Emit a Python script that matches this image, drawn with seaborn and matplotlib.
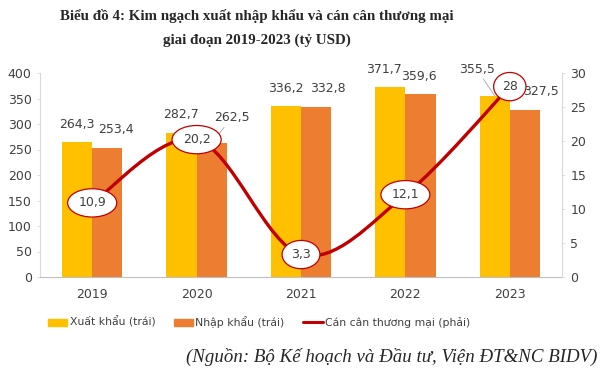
import pandas as pd
import matplotlib.pyplot as plt
import seaborn as sns
from matplotlib.path import Path
from matplotlib.patches import PathPatch
from matplotlib.lines import Line2D
from matplotlib.patches import Patch

#------------------------------------------------------------------------------
years = ['2019', '2020', '2021', '2022', '2023']
xuat_khau = [264.3, 282.7, 336.2, 371.7, 355.5]
nhap_khau = [253.4, 262.5, 332.8, 359.6, 327.5]
can_can = [10.9, 20.2, 3.3, 12.1, 28.0]
xk_labels = ['264,3', '282,7', '336,2', '371,7', '355,5']
nk_labels = ['253,4', '262,5', '332,8', '359,6', '327,5']
cc_labels = ['10,9', '20,2', '3,3', '12,1', '28']
#------------------------------------------------------------------------------
c_xk = '#FFC000'
c_nk = '#ED7D31'
c_cc = '#C00000'
txt = '#404040'
fs = 9

sns.set_style('white')
plt.rcParams['font.family'] = ['DejaVu Sans']

df = pd.DataFrame({'year': years * 2,
                   'value': xuat_khau + nhap_khau,
                   'kind': ['Xuất khẩu (trái)'] * 5 + ['Nhập khẩu (trái)'] * 5})

fig = plt.figure(figsize=(6.05, 3.72), dpi=100)
ax = fig.add_axes([40 / 605, 1 - 277 / 372, 522 / 605, 204 / 372])
sns.barplot(data=df, x='year', y='value', hue='kind', ax=ax,
            palette=[c_xk, c_nk], width=0.58, saturation=1, legend=False,
            linewidth=0)
ax.set_xlim(-0.5, 4.5)
ax.set_ylim(0, 400)
ax.set_yticks(range(0, 401, 50))
ax.set_xlabel('')
ax.set_ylabel('')
ax.tick_params(axis='both', labelsize=fs, colors=txt, length=2.5, width=0.6)
ax.tick_params(axis='x', length=0, pad=8)
for s in ['top', 'right']:
    ax.spines[s].set_visible(False)
ax.spines['left'].set_color('#d9d9d9')
ax.spines['bottom'].set_color('#bfbfbf')
ax.tick_params(axis='y', color='#d9d9d9')

# bar labels (offset in pixels from bar top)
bw = 0.29
xk_off = [(0, 11), (0, 12), (0, 11), (-6, 11), (-18, 20)]
nk_off = [(9, 12), (20, 19), (12, 12), (-2, 11), (16, 12)]
for i in range(5):
    ax.annotate(xk_labels[i], (i - bw / 2, xuat_khau[i]), xytext=xk_off[i],
                textcoords='offset pixels', ha='center', va='bottom',
                fontsize=fs, color=txt,
                arrowprops=dict(arrowstyle='-', color='#a6a6a6', lw=0.6,
                                shrinkA=0, shrinkB=0) if i == 4 else None)
    ax.annotate(nk_labels[i], (i + bw / 2, nhap_khau[i]), xytext=nk_off[i],
                textcoords='offset pixels', ha='center', va='bottom',
                fontsize=fs, color=txt,
                arrowprops=dict(arrowstyle='-', color='#a6a6a6', lw=0.6,
                                shrinkA=0, shrinkB=0) if i == 1 else None)

# right axis: smoothed line
ax2 = ax.twinx()
ax2.set_ylim(0, 30)
ax2.set_yticks(range(0, 31, 5))
ax2.tick_params(axis='y', labelsize=fs, colors=txt, color='#d9d9d9',
                length=2.5, width=0.6)
for s in ['top', 'left', 'bottom']:
    ax2.spines[s].set_visible(False)
ax2.spines['right'].set_color('#d9d9d9')

pts = list(zip(range(5), can_can))
verts = [pts[0]]
codes = [Path.MOVETO]
for i in range(4):
    p0 = pts[max(i - 1, 0)]
    p1 = pts[i]
    p2 = pts[i + 1]
    p3 = pts[min(i + 2, 4)]
    c1 = (p1[0] + (p2[0] - p0[0]) / 6, p1[1] + (p2[1] - p0[1]) / 6)
    c2 = (p2[0] - (p3[0] - p1[0]) / 6, p2[1] - (p3[1] - p1[1]) / 6)
    verts += [c1, c2, p2]
    codes += [Path.CURVE4] * 3
ax2.add_patch(PathPatch(Path(verts, codes), facecolor='none',
                        edgecolor=c_cc, lw=2.4, capstyle='round'))

for i in range(5):
    ax2.text(i, can_can[i], cc_labels[i], ha='center', va='center',
             fontsize=fs, color=txt, zorder=5,
             bbox=dict(boxstyle='ellipse,pad=0.28', fc='white',
                       ec=c_cc, lw=0.9))

# legend
handles = [Patch(color=c_xk), Patch(color=c_nk),
           Line2D([0], [0], color=c_cc, lw=2.2)]
fig.legend(handles, ['Xuất khẩu (trái)', 'Nhập khẩu (trái)',
                     'Cán cân thương mại (phải)'],
           loc='center', bbox_to_anchor=(0.428, 1 - 322 / 372), ncol=3,
           frameon=False, fontsize=7.8, labelcolor=txt, handlelength=1.8,
           handleheight=0.6, handletextpad=0.2, columnspacing=1.7)

fig.text(257 / 605, 1 - 16 / 372, 'Biểu đồ 4: Kim ngạch xuất nhập khẩu và cán cân thương mại',
         ha='center', va='center', fontsize=10.8, fontweight='bold',
         family='Liberation Serif')
fig.text(257 / 605, 1 - 40 / 372, 'giai đoạn 2019-2023 (tỷ USD)',
         ha='center', va='center', fontsize=10.8, fontweight='bold',
         family='Liberation Serif')
fig.text(597 / 605, 1 - 357 / 372, '(Nguồn: Bộ Kế hoạch và Đầu tư, Viện ĐT&NC BIDV)',
         ha='right', va='center', fontsize=13.6, style='italic',
         family='Liberation Serif')

fig.savefig('out.png', dpi=100)
